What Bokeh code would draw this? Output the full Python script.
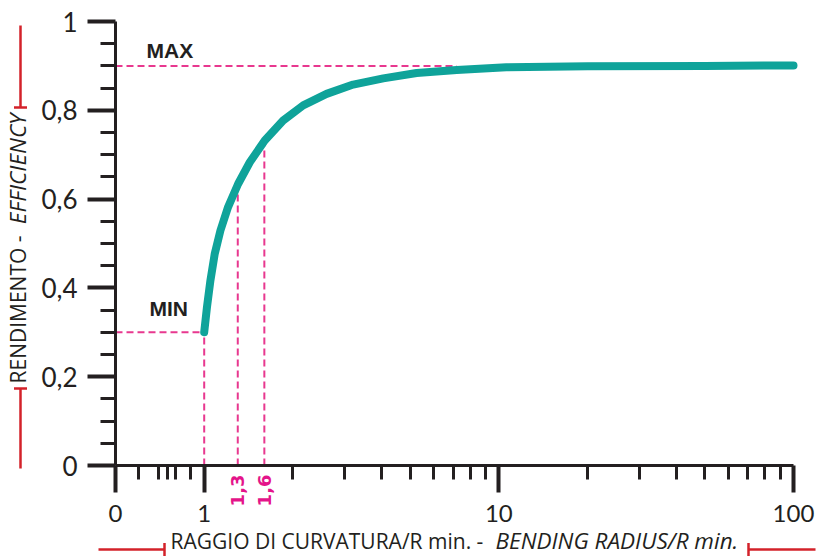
import math
from bokeh.plotting import figure
from bokeh.models import (Range1d, FixedTicker, CustomJSTickFormatter, Label,
                          Arrow, TeeHead)
from bokeh.embed import file_html
from bokeh.resources import INLINE

# ---- data ----
curve_x = [1.0, 1.022, 1.050, 1.086, 1.135, 1.205, 1.303, 1.428, 1.605, 1.853,
           2.167, 2.602, 3.203, 4.052, 5.26, 7.19, 10.6, 20.0, 50.0, 100.0]
curve_y = [0.300, 0.357, 0.417, 0.477, 0.529, 0.582, 0.634, 0.683, 0.732, 0.777,
           0.811, 0.837, 0.858, 0.872, 0.884, 0.891, 0.897, 0.899, 0.900, 0.901]

x_major_ticks = [0.5, 1, 10, 100]
x_tick_labels = ["0", "1", "10", "100"]
x_minor_ticks = [0.6, 0.7, 0.75, 0.8, 0.9,
                 2, 3, 4, 5, 6, 7, 8, 9,
                 20, 30, 40, 50, 60, 70, 80, 90]
y_major_ticks = [0, 0.2, 0.4, 0.6, 0.8, 1.0]
y_tick_labels = ["0", "0,2", "0,4", "0,6", "0,8", "1"]
y_minor_ticks = [0.05, 0.1, 0.15, 0.25, 0.3, 0.35, 0.45, 0.5, 0.55,
                 0.65, 0.7, 0.75, 0.85, 0.9, 0.95]

eff_max = 0.9
eff_min = 0.3
r_min = 1.0
marked_x = [1.3, 1.6]
marked_y = [0.63, 0.73]
marked_labels = ["1,3", "1,6"]
max_reach_x = 7.2

DARK = "#231f20"
TEAL = "#0fa39a"
PINK = "#e8388f"
PINK_TXT = "#e4148a"
RED = "#d3222a"

# ---- layout: plot box in canvas pixels ----
W, H = 828, 556
PX_L, PX_R, PX_T, PX_B = 115, 793, 21, 465   # where x=0.5, x=100, y=1, y=0 fall
X0, X1, Y0, Y1 = 0.5, 100.0, 0.0, 1.0
dec = (PX_R - PX_L) / (math.log10(X1) - math.log10(X0))
xr = Range1d(10 ** (math.log10(X0) - PX_L / dec), 10 ** (math.log10(X1) + (W - PX_R) / dec))
upx = (Y1 - Y0) / (PX_B - PX_T)
yr = Range1d(Y0 - (H - PX_B) * upx, Y1 + PX_T * upx)

p = figure(width=W, height=H, x_axis_type="log", x_range=xr, y_range=yr,
           output_backend="svg", toolbar_location=None,
           min_border=0, min_border_left=0, min_border_right=0,
           min_border_top=0, min_border_bottom=0)
p.title = None
p.outline_line_color = None
p.xgrid.visible = False
p.ygrid.visible = False
p.background_fill_color = "white"
p.border_fill_color = "white"

fmt_code = """
let best = 0, bd = Infinity;
for (let i = 0; i < tvals.length; i++) {
  const d = Math.abs(tvals[i] - tick);
  if (d < bd) { bd = d; best = i; }
}
return tlabels[best];
"""

xa = p.xaxis[0]
xa.ticker = FixedTicker(ticks=x_major_ticks, minor_ticks=x_minor_ticks)
xa.formatter = CustomJSTickFormatter(args=dict(tvals=x_major_ticks, tlabels=x_tick_labels), code=fmt_code)
xa.fixed_location = Y0
xa.bounds = (X0, X1)
ya = p.yaxis[0]
ya.ticker = FixedTicker(ticks=y_major_ticks, minor_ticks=y_minor_ticks)
ya.formatter = CustomJSTickFormatter(args=dict(tvals=y_major_ticks, tlabels=y_tick_labels), code=fmt_code)
ya.fixed_location = X0
ya.bounds = (Y0, Y1)

for ax, mo, mi in ((xa, 27, 14), (ya, 28, 15)):
    ax.axis_line_width = 3
    ax.axis_line_color = DARK
    ax.major_tick_in = 0
    ax.major_tick_out = mo
    ax.major_tick_line_width = 4
    ax.major_tick_line_color = DARK
    ax.minor_tick_in = 0
    ax.minor_tick_out = mi
    ax.minor_tick_line_width = 3
    ax.minor_tick_line_color = DARK
    ax.major_label_text_font = "Lato"
    ax.major_label_text_color = DARK
xa.major_label_text_font_size = "24px"
ya.major_label_text_font_size = "26px"
xa.major_label_standoff = 12
ya.major_label_standoff = 10

# dashed guide lines
dash = dict(line_color=PINK, line_width=2, line_dash="7 4")
p.segment(x0=[X0, X0, r_min], y0=[eff_max, eff_min, 0],
          x1=[max_reach_x, r_min, r_min], y1=[eff_max, eff_min, eff_min], **dash)
p.segment(x0=marked_x, y0=[0, 0], x1=marked_x, y1=marked_y, **dash)

# efficiency curve
p.line(curve_x, curve_y, line_color=TEAL, line_width=8,
       line_cap="round", line_join="round")

# MAX / MIN labels
p.add_layout(Label(x=0.765, y=0.935, text="MAX", text_align="center",
                   text_baseline="alphabetic", text_font="Liberation Sans",
                   text_font_style="bold", text_font_size="21px", text_color=DARK))
p.add_layout(Label(x=0.758, y=0.354, text="MIN", text_align="center",
                   text_baseline="alphabetic", text_font="Liberation Sans",
                   text_font_style="bold", text_font_size="21px", text_color=DARK))

# pink rotated labels under the axis
for xv, txt in zip(marked_x, marked_labels):
    p.add_layout(Label(x=xv, y=474, x_units="data", y_units="canvas", text=txt,
                       angle=math.pi / 2, text_align="right", text_baseline="middle",
                       text_font="DejaVu Sans", text_font_style="bold",
                       text_font_size="18px", text_color=PINK_TXT))

# axis titles
TF = "Open Sans"
TS = "21px"
TSI = "22.5px"
p.add_layout(Label(x=170, y=540, x_units="canvas", y_units="canvas",
                   text="RAGGIO DI CURVATURA/R min. - ", text_font=TF,
                   text_font_size=TS, text_color=DARK, text_align="left",
                   text_baseline="alphabetic"))
p.add_layout(Label(x=495, y=540, x_units="canvas", y_units="canvas",
                   text="BENDING RADIUS/R min.", text_font=TF,
                   text_font_style="italic",
                   text_font_size=TSI, text_color=DARK, text_align="left",
                   text_baseline="alphabetic"))
p.add_layout(Label(x=17, y=383, x_units="canvas", y_units="canvas",
                   text="RENDIMENTO - ", text_font=TF, angle=math.pi / 2,
                   text_font_size=TS, text_color=DARK, text_align="left",
                   text_baseline="alphabetic"))
p.add_layout(Label(x=17, y=113, x_units="canvas", y_units="canvas",
                   text="EFFICIENCY", text_font=TF, angle=math.pi / 2,
                   text_font_style="italic",
                   text_font_size=TSI, text_color=DARK, text_align="right",
                   text_baseline="alphabetic"))

# red brackets
for (xs, ys, xe, ye) in [(20, 25, 20, 107), (20, 468, 20, 388),
                         (98, 549, 164, 549), (815, 549, 748, 549)]:
    p.add_layout(Arrow(x_start=xs, y_start=ys, x_end=xe, y_end=ye,
                       start_units="canvas", end_units="canvas",
                       line_color=RED, line_width=2.5, start=None,
                       end=TeeHead(size=13, line_color=RED, line_width=2.5)))

open("out.html", "w").write(file_html(p, INLINE))
